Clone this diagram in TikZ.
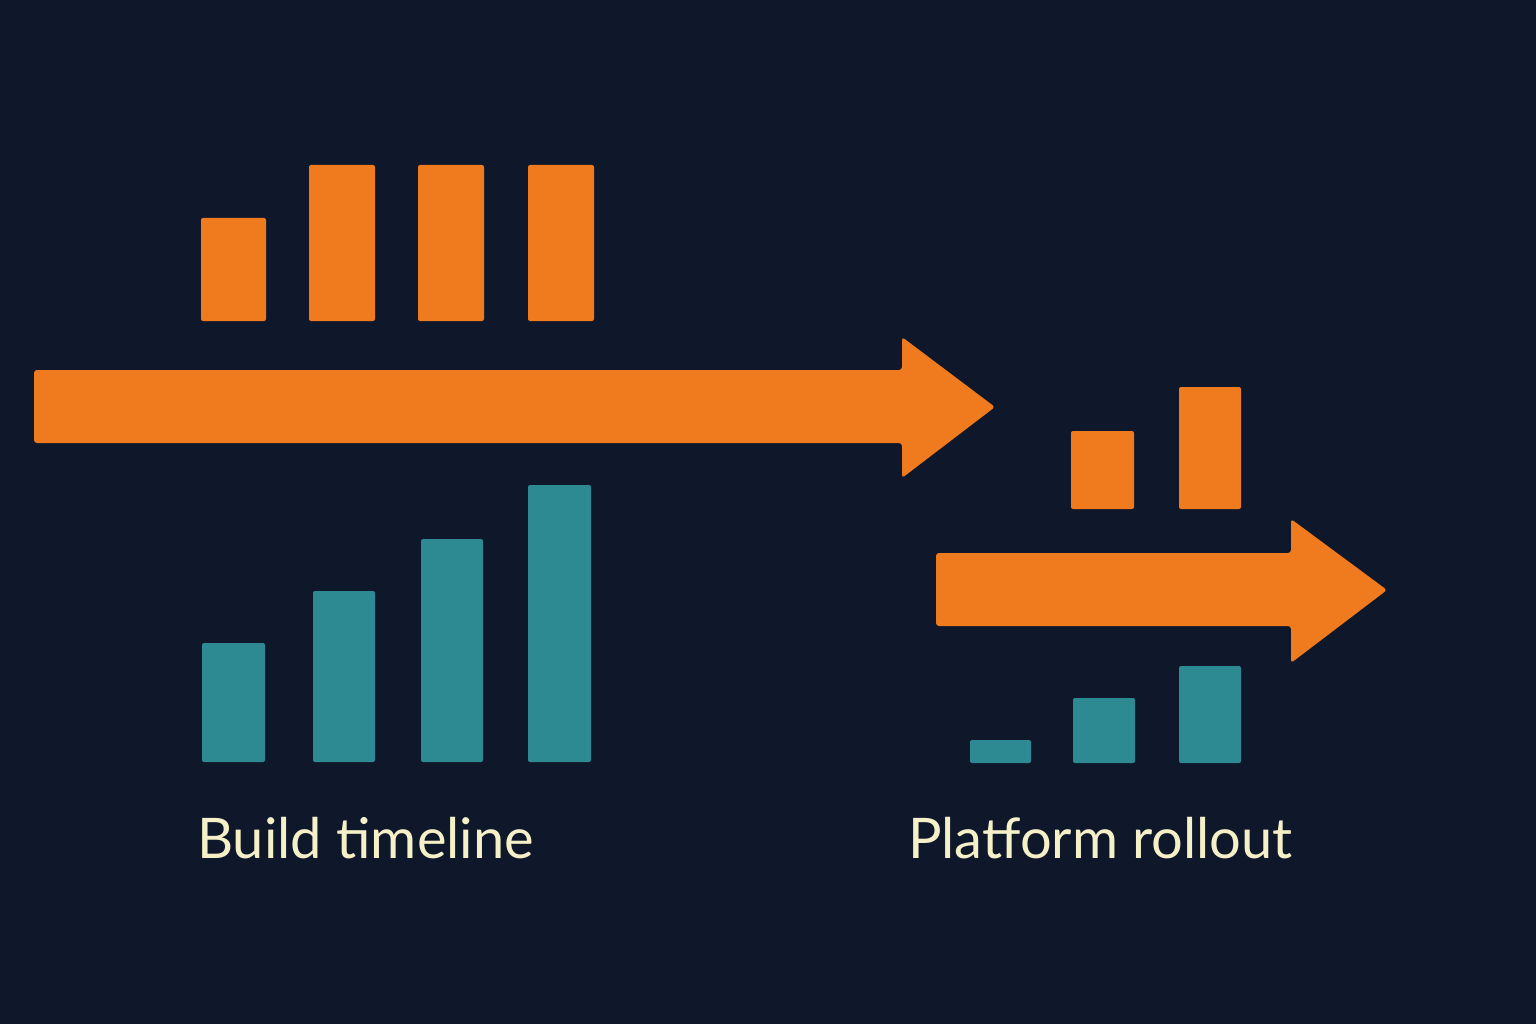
\documentclass[tikz,border=0pt]{standalone}
\usepackage{fontspec}
\setmainfont{Lato}
\definecolor{bg}{HTML}{0F172A}
\definecolor{org}{HTML}{F07A1E}
\definecolor{teal}{HTML}{2E8A92}
\definecolor{cream}{HTML}{F5F0C8}
\begin{document}
\begin{tikzpicture}[x=1pt,y=-1pt,
 ob/.style={fill=org,rounded corners=2pt},
 tb/.style={fill=teal,rounded corners=2pt},
 lbl/.style={text=cream,font=\fontsize{56}{60}\selectfont,inner sep=0pt}]
\fill[bg] (0,0) rectangle (1536,1024);
\useasboundingbox (0,0) rectangle (1536,1024);
% left orange bars
\fill[ob] (201,218) rectangle (266,321);
\fill[ob] (309,165) rectangle (375,321);
\fill[ob] (418,165) rectangle (484,321);
\fill[ob] (528,165) rectangle (594,321);
% big arrow
\fill[org,rounded corners=3pt] (34,370) -- (902,370) -- (902,337) -- (995,407) -- (902,478) -- (902,443) -- (34,443) -- cycle;
% left teal bars
\fill[tb] (202,643) rectangle (265,762);
\fill[tb] (313,591) rectangle (375,762);
\fill[tb] (421,539) rectangle (483,762);
\fill[tb] (528,485) rectangle (591,762);
% right orange bars
\fill[ob] (1071,431) rectangle (1134,509);
\fill[ob] (1179,387) rectangle (1241,509);
% small arrow
\fill[org,rounded corners=3pt] (936,553) -- (1291,553) -- (1291,519) -- (1387,590) -- (1291,663) -- (1291,626) -- (936,626) -- cycle;
% right teal bars
\fill[tb] (970,740) rectangle (1031,763);
\fill[tb] (1073,698) rectangle (1135,763);
\fill[tb] (1179,666) rectangle (1241,763);
\node[lbl,anchor=base west] (t1) at (197,858) {Build timeline};
\node[lbl,anchor=base west] (t2) at (908,858) {Platform rollout};
\end{tikzpicture}
\end{document}
